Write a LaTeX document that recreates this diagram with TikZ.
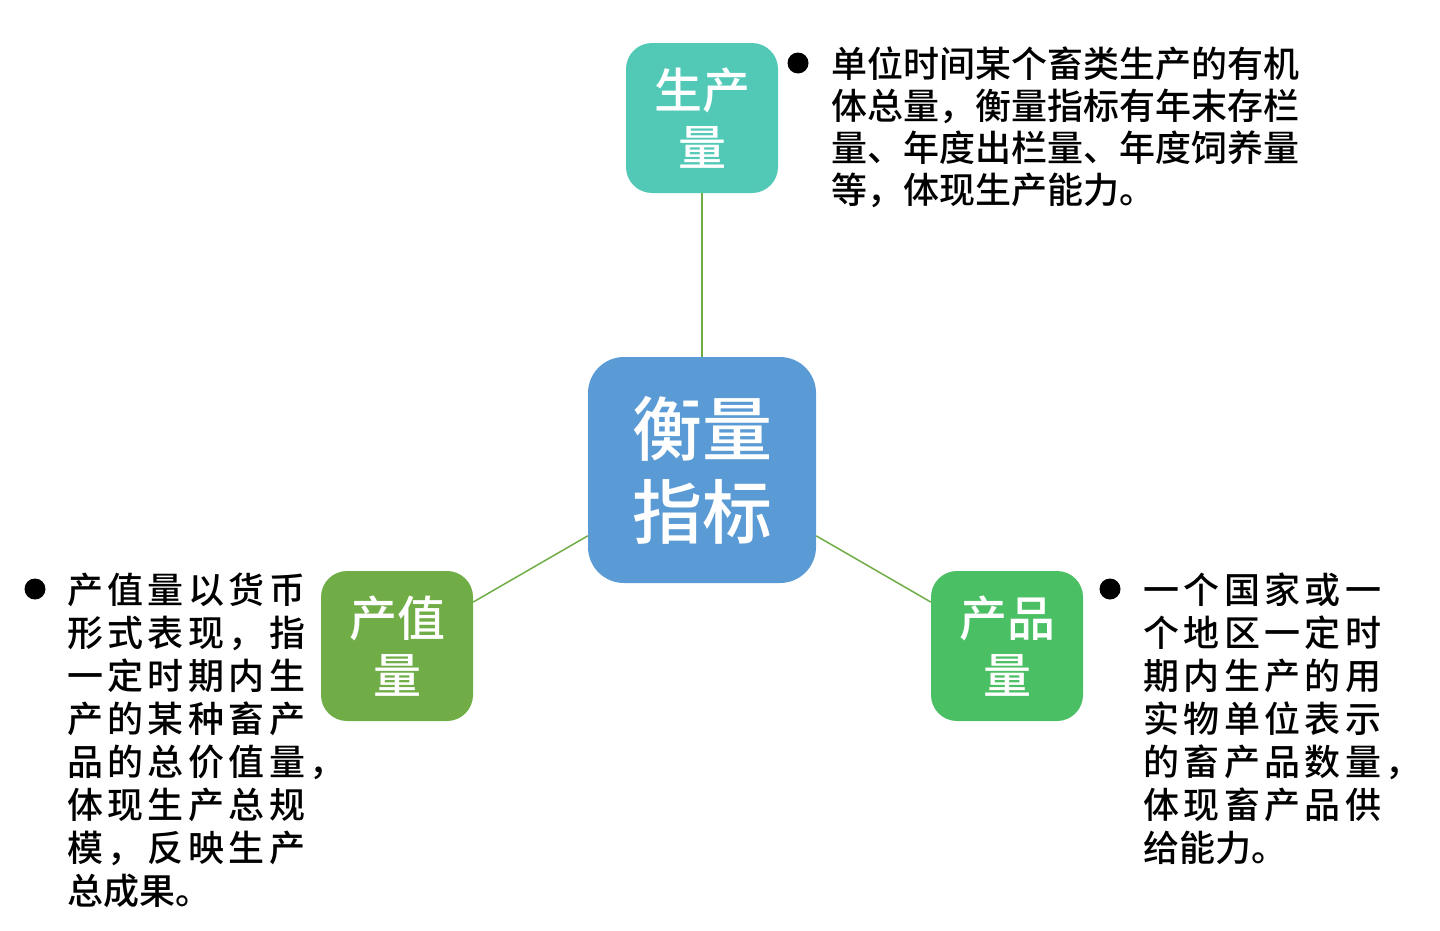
\documentclass[tikz,border=0pt]{standalone}
\usepackage{fontspec}
\setmainfont{Noto Sans CJK SC}[UprightFont=* Medium, BoldFont=* Bold]
\makeatletter
\newcommand\spreadchars[2]{\def\sp@w{#1}\expandafter\sp@go\expandafter{#2}}
\def\sp@go#1{\@tfor\sp@c:=#1\do{\makebox[\sp@w][l]{\sp@c}}}
\makeatother
\definecolor{cblue}{HTML}{5B9BD5}
\definecolor{cteal}{HTML}{52C9B7}
\definecolor{cgreenA}{HTML}{70AD47}
\definecolor{cgreenB}{HTML}{4BBF63}
\definecolor{clink}{HTML}{70AD47}
\tikzset{
  box/.style={rounded corners=26bp, inner sep=0pt, text=white, align=center,
    font=\fontsize{48bp}{57bp}\selectfont, minimum width=152bp, minimum height=150bp},
  bigbox/.style={box, rounded corners=36bp, minimum width=228bp, minimum height=226bp,
    font=\fontsize{70bp}{83bp}\selectfont},
  link/.style={draw=clink, line width=1.5bp},
  dot/.style={circle, fill=black, minimum size=21bp, inner sep=0pt},
  body/.style={anchor=base west, inner sep=0pt, font=\fontsize{36bp}{43bp}\selectfont}
}
\begin{document}
\begin{tikzpicture}[x=1bp,y=-1bp]
\useasboundingbox (0,0) rectangle (1440,930);
\node[bigbox, fill=cblue] (c) at (702,470) {衡量\\指标};
\node[box, fill=cteal] (t) at (702,118) {生产\\量};
\node[box, fill=cgreenA] (l) at (397,646) {产值\\量};
\node[box, fill=cgreenB] (r) at (1007,646) {产品\\量};
\draw[link] (t) -- (c);
\draw[link] (c) -- (l);
\draw[link] (c) -- (r);
% top text
\node[dot] (tdot) at (798,63) {};
\foreach \s [count=\i] in {单位时间某个畜类生产的有机,体总量，衡量指标有年末存栏,量、年度出栏量、年度饲养量,等，体现生产能力。}
  \node[body] (tt\i) at (831,{77+42.2*(\i-1)}) {\s};
% left text
\node[dot] (ldot) at (35,589) {};
\foreach \s [count=\i] in {产值量以货币,形式表现，指,一定时期内生,产的某种畜产,品的总价值量，,体现生产总规,模，反映生产}
  \node[body] (lt\i) at (67,{603+43*(\i-1)}) {\spreadchars{40.4bp}{\s}};
\node[body] (lt8) at (67,{603+43*7}) {总成果。};
% right text
\node[dot] (rdot) at (1110,589) {};
\foreach \s [count=\i] in {一个国家或一,个地区一定时,期内生产的用,实物单位表示,的畜产品数量，,体现畜产品供}
  \node[body] (rt\i) at (1143,{603+43*(\i-1)}) {\spreadchars{40.4bp}{\s}};
\node[body] (rt7) at (1143,{603+43*6}) {给能力。};
\end{tikzpicture}
\end{document}
